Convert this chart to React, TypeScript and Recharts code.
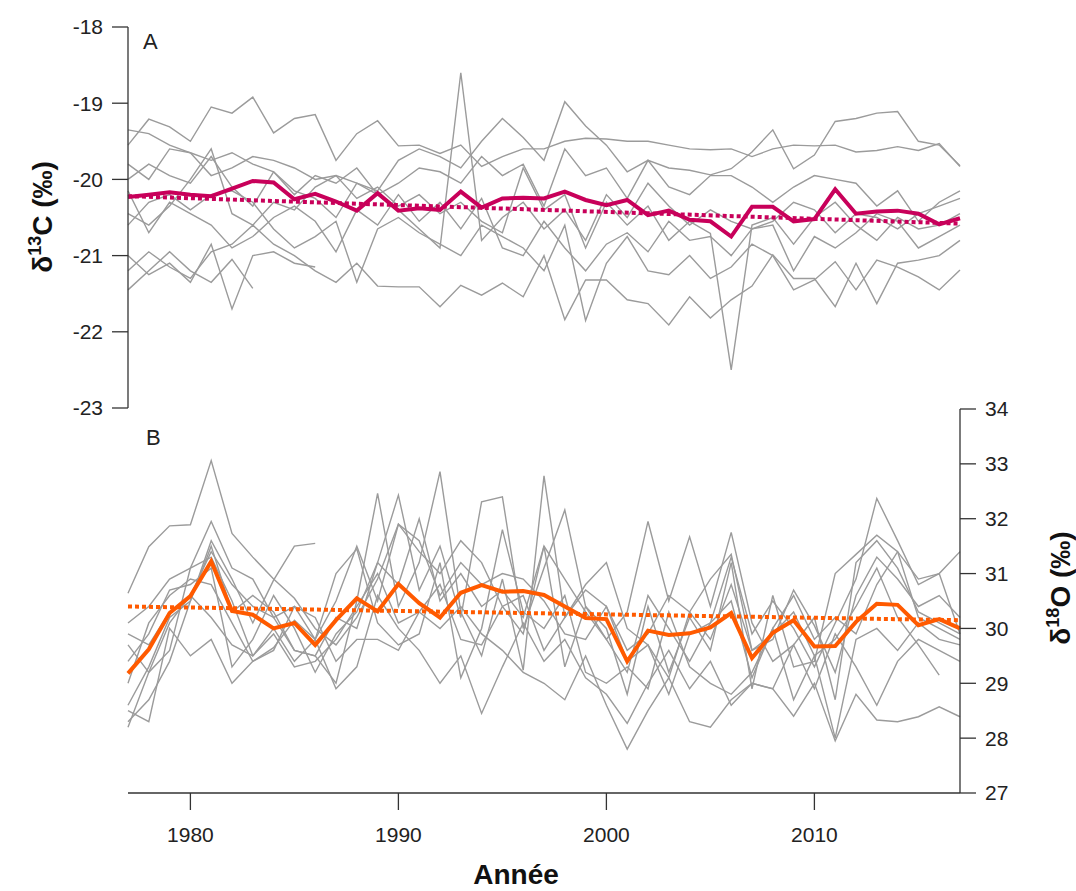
import React from "react";
import { LineChart, Line, XAxis, YAxis } from "recharts";

const years = [
  1977, 1978, 1979, 1980, 1981, 1982, 1983, 1984, 1985, 1986,
  1987, 1988, 1989, 1990, 1991, 1992, 1993, 1994, 1995, 1996,
  1997, 1998, 1999, 2000, 2001, 2002, 2003, 2004, 2005, 2006,
  2007, 2008, 2009, 2010, 2011, 2012, 2013, 2014, 2015, 2016, 2017,
];

const xTicks = [1980, 1990, 2000, 2010];
const ticksA = [-23, -22, -21, -20, -19, -18];
const ticksB = [27, 28, 29, 30, 31, 32, 33, 34];

// moyenne δ13C
const meanA = [
  -20.23, -20.2, -20.17, -20.2, -20.22, -20.12, -20.02, -20.04, -20.26, -20.19,
  -20.29, -20.41, -20.18, -20.41, -20.38, -20.4, -20.16, -20.37, -20.25, -20.24,
  -20.25, -20.16, -20.27, -20.34, -20.27, -20.47, -20.41, -20.53, -20.55, -20.75,
  -20.36, -20.36, -20.55, -20.52, -20.13, -20.45, -20.42, -20.41, -20.45, -20.59, -20.51,
];
// tendance (début / fin)
const trendA = [-20.22, -20.58];

// moyenne δ18O
const meanB = [
  29.18, 29.62, 30.28, 30.59, 31.22, 30.32, 30.25, 30.0, 30.1, 29.7,
  30.15, 30.55, 30.31, 30.81, 30.46, 30.2, 30.65, 30.79, 30.67, 30.68,
  30.61, 30.4, 30.19, 30.17, 29.4, 29.96, 29.88, 29.91, 30.02, 30.28,
  29.46, 29.92, 30.15, 29.67, 29.68, 30.12, 30.45, 30.43, 30.06, 30.17, 30.0,
];
const trendB = [30.4, 30.15];

// arbres individuels, δ13C
const a1 = [
  -19.55, -19.21, -19.31, -19.5, -19.05, -19.13, -18.92, -19.39, -19.2, -19.15,
  -19.75, -19.4, -19.23, -19.56, -19.55, -19.66, -19.55, -19.83, -19.7, -19.6,
  -19.6, -19.5, -19.46, -19.47, -19.5, -19.5, -19.55, -19.6, -19.61, -19.6,
  -19.7, -19.6, -19.55, -19.56, -19.55, -19.64, -19.62, -19.57, -19.62, -19.53, -19.83,
];
const a2 = [
  -19.35, -19.4, -19.55, -19.65, -19.95, -19.85, -19.7, -19.75, -19.85, -20.0,
  -19.95, -20.05, -20.15, -19.75, -19.6, -19.7, -19.85, -19.5, -19.2, -19.45,
  -19.75, -18.98, -19.3, -19.55, -19.9, -19.75, -19.85, -19.88, -19.94, -19.86,
  -19.64, -19.35, -19.86, -19.68, -19.24, -19.2, -19.13, -19.11, -19.5, -19.55, -19.82,
];
const a3 = [
  -20.0, -19.8, -19.95, -20.05, -19.7, -20.1, -20.35, -19.9, -20.15, -20.25,
  -20.5, -20.05, -20.2, -20.4, -20.65, -20.9, -18.6, -20.8, -20.5, -20.3,
  -20.65, -20.4, -20.8, -20.2, -20.5, -20.05, -20.35, -20.6, -20.4, -20.55,
  -20.65, -20.55, -20.3, -20.4, -20.7, -20.45, -20.5, -20.65, -20.45, -20.35, -20.25,
];
const a4 = [
  -20.45, -20.6, -20.35, -20.0, -19.6, -20.45, -20.6, -20.3, -20.4, -20.1,
  -19.95, -20.25, -20.1, -20.35, -20.2, -20.45, -20.3, -20.55, -20.7, -19.85,
  -20.4, -20.2, -20.9, -20.3, -20.6, -20.35, -20.8, -20.55, -20.71, -22.5,
  -20.6, -20.5, -20.85, -20.5, -20.3, -20.6, -20.8, -20.5, -20.65, -20.6, -20.45,
];
const a5 = [
  -20.15, -20.7, -20.3, -20.45, -20.6, -20.9, -20.75, -20.5, -20.35, -20.55,
  -20.95, -20.4, -20.6, -20.2, -20.55, -20.3, -20.65, -20.25, -20.9, -21.0,
  -20.55, -20.9, -21.2, -20.85, -20.7, -20.95, -20.55, -20.8, -20.75, -21.0,
  -20.65, -20.6, -21.2, -20.75, -20.9, -20.7, -20.45, -20.55, -20.9, -20.75, -20.6,
];
const a6 = [-21.45, -21.2, -20.95, -21.2, -21.35, -21.05, -21.43];
const a7 = [-21.0, -21.25, -21.1, -21.35, -20.85, -21.7, -21.0, -20.95, -21.1, -21.15];
const a8 = [
  -21.2, -20.95, -21.15, -21.3, -20.95, -20.85, -20.6, -20.85, -21.0, -21.2,
  -21.35, -21.1, -21.4, -21.41, -21.41, -21.67, -21.39, -21.52, -21.36, -21.54,
  -21.0, -21.84, -21.32, -21.32, -21.58, -21.63, -21.91, -21.54, -21.82, -21.58,
  -21.4, -20.99, -21.3, -21.3, -21.67, -21.1, -21.63, -21.1, -21.06, -21.0, -20.8,
];
const a9 = [
  -20.6, -20.3, -20.2, -20.4, -20.2, -20.15, -20.3, -20.65, -20.9, -20.75,
  -20.55, -21.35, -20.65, -20.5, -20.7, -20.85, -21.0, -20.6, -20.75, -20.9,
  -21.2, -20.6, -21.85, -21.1, -20.75, -21.2, -21.25, -21.0, -21.3, -21.15,
  -20.85, -21.0, -21.45, -21.32, -21.08, -21.45, -21.06, -21.15, -21.28, -21.45, -21.19,
];
const a10 = [
  -19.8, -20.0, -19.6, -19.65, -19.75, -19.65, -19.8, -19.9, -20.2, -19.95,
  -20.05, -19.85, -20.2, -20.05, -19.85, -19.9, -20.05, -19.7, -19.95, -19.8,
  -20.35, -19.6, -19.95, -19.85, -20.25, -19.75, -20.1, -20.2, -19.95, -19.95,
  -20.1, -20.3, -20.1, -19.95, -20.0, -20.05, -20.35, -20.15, -20.55, -20.3, -20.15,
];

// arbres individuels, δ18O
const b1 = [
  30.64, 31.49, 31.87, 31.89, 33.06, 31.73, 31.3, 30.9, 30.55, 30.0,
  29.7, 30.2, 30.9, 31.9, 31.4, 31.0, 31.6, 31.2, 30.4, 29.9,
  31.5, 30.9, 30.3, 29.8, 29.2, 30.6, 30.0, 29.4, 30.1, 31.3,
  29.9, 30.5, 30.0, 29.3, 30.1, 30.9, 32.37, 31.6, 30.8, 31.0, 29.9,
];
const b2 = [28.3, 28.7, 29.4, 30.5, 31.6, 30.9, 30.1, 30.88, 31.5, 31.55];
const b3 = [
  28.2, 29.2, 30.1, 30.6, 31.4, 30.8, 30.4, 30.2, 29.6, 29.5,
  29.0, 30.5, 32.46, 30.4, 31.2, 32.86, 30.3, 29.5, 30.9, 29.24,
  32.78, 30.2, 30.8, 31.2, 30.0, 29.7, 29.1, 30.3, 30.9, 31.35,
  29.6, 29.8, 30.7, 30.05, 29.2, 30.6, 31.3, 30.9, 30.4, 30.6, 30.2,
];
const b4 = [
  29.4, 29.9, 30.7, 30.8, 31.1, 29.3, 29.8, 30.6, 30.0, 29.2,
  29.9, 30.3, 31.2, 32.43, 30.7, 31.5, 30.2, 32.31, 32.4, 30.0,
  31.1, 32.16, 30.4, 29.8, 30.3, 31.95, 30.5, 31.67, 30.4, 31.75,
  30.1, 29.4, 29.7, 30.2, 28.7, 31.2, 31.6, 31.1, 30.3, 30.1, 29.9,
];
const b5 = [
  28.5, 28.3, 30.0, 29.5, 29.8, 29.0, 29.4, 29.65, 30.15, 29.8,
  28.9, 29.3, 30.6, 30.0, 29.6, 29.0, 29.5, 28.45, 29.3, 30.1,
  29.4, 29.8, 29.1, 28.8, 28.27, 29.0, 29.6, 28.9, 29.4, 28.6,
  29.0, 28.9, 29.7, 28.9, 29.9, 29.3, 28.6, 29.4, 29.8, 29.6, 29.4,
];
const b6 = [
  29.9, 29.7, 30.3, 30.6, 30.2, 29.7, 29.5, 29.9, 29.3, 29.4,
  29.8, 30.4, 31.0, 30.1, 30.3, 30.0, 30.4, 29.9, 29.6, 29.2,
  29.0, 28.7, 29.5, 28.6, 27.8, 28.5, 29.1, 28.3, 28.2, 28.7,
  29.0, 28.9, 28.4, 29.0, 27.95, 28.8, 28.33, 28.3, 28.39, 28.57, 28.39,
];
const b7 = [
  30.1, 30.4, 30.9, 31.1, 31.3, 30.5, 29.5, 30.0, 29.4, 29.8,
  30.5, 31.5, 30.5, 31.9, 31.6, 30.6, 31.2, 30.8, 31.0, 30.9,
  30.5, 29.9, 29.8, 30.4, 29.4, 29.7, 28.8, 29.9, 30.1, 30.5,
  29.1, 30.0, 30.6, 29.8, 30.2, 29.9, 30.8, 31.4, 30.9, 31.0, 31.4,
];
const b8 = [
  28.6, 29.3, 30.2, 30.5, 31.5, 30.3, 30.6, 30.3, 29.6, 29.5,
  30.2, 30.0, 31.2, 30.8, 32.0, 30.5, 31.0, 30.4, 30.7, 30.2,
  31.5, 29.3, 30.4, 30.0, 28.8, 30.4, 29.2, 30.2, 29.6, 31.2,
  28.9, 30.6, 29.3, 29.4, 31.0, 31.35, 31.7, 31.4, 30.2, 30.0, 29.8,
];
const b9 = [
  29.7, 29.2, 29.6, 31.1, 31.95, 31.1, 30.9, 30.2, 30.4, 29.8,
  31.0, 31.45, 30.1, 29.7, 29.9, 31.2, 29.1, 30.0, 31.8, 30.3,
  30.0, 30.6, 29.2, 29.0, 29.3, 28.9, 30.3, 29.3, 29.0, 28.8,
  29.2, 30.0, 28.7, 29.5, 28.0, 29.8, 30.0, 29.6, 30.1, 29.8, 29.7,
];
const b10 = [
  29.0, 30.1, 30.6, 30.9, 30.8, 30.1, 29.4, 29.6, 30.4, 30.2,
  29.4, 29.8, 29.8, 29.6, 30.3, 30.8, 29.8, 29.7, 30.4, 30.6,
  29.6, 30.2, 30.7, 30.4, 29.6, 29.9, 30.6, 30.3, 29.8, 30.8,
  29.6, 29.9, 30.3, 29.5, 29.8, 30.4, 31.1, 30.2, 29.7, 29.15,
];

const treesA = [a1, a2, a3, a4, a5, a6, a7, a8, a9, a10];
const treesB = [b1, b2, b3, b4, b5, b6, b7, b8, b9, b10];

const FONT = "'Liberation Sans', Arial, sans-serif";
const AXIS = "#333";
const GREY = "#9b9b9b";
const CRIMSON = "#c8005a";
const ORANGE = "#ff5a00";

function buildRows(trees: number[][], mean: number[], trend: number[]) {
  const last = years.length - 1;
  return years.map((year, i) => {
    const row: Record<string, number | null> = { year, mean: mean[i] };
    trees.forEach((t, k) => {
      row[`t${k}`] = t[i] ?? null;
    });
    row.trend = i === 0 ? trend[0] : i === last ? trend[1] : null;
    return row;
  });
}

const rowsA = buildRows(treesA, meanA, trendA);
const rowsB = buildRows(treesB, meanB, trendB);

const tickStyle = { fontSize: 21, fill: "#222", fontFamily: FONT };

function treeLines(n: number) {
  return Array.from({ length: n }, (_, k) => (
    <Line
      key={k}
      dataKey={`t${k}`}
      stroke={GREY}
      strokeWidth={1.4}
      dot={false}
      activeDot={false}
      isAnimationActive={false}
    />
  ));
}

export default function App() {
  return (
    <div style={{ position: "absolute", left: 0, top: 0, width: 1076, height: 891, background: "#fff" }}>
      <div style={{ position: "absolute", left: 0, top: 0 }}>
        <LineChart width={1076} height={430} data={rowsA} margin={{ top: 27, right: 116, bottom: 22, left: 0 }}>
          <XAxis dataKey="year" type="number" domain={[1977, 2017]} hide />
          <YAxis
            domain={[-23, -18]}
            ticks={ticksA}
            interval={0}
            width={128}
            tickSize={16}
            tickMargin={9}
            tick={tickStyle}
            axisLine={{ stroke: AXIS, strokeWidth: 1.3 }}
            tickLine={{ stroke: AXIS, strokeWidth: 1.3 }}
            allowDataOverflow
          />
          {treeLines(treesA.length)}
          <Line dataKey="trend" stroke={CRIMSON} strokeWidth={4} strokeDasharray="4 3" dot={false} activeDot={false} connectNulls isAnimationActive={false} />
          <Line dataKey="mean" stroke={CRIMSON} strokeWidth={4} dot={false} activeDot={false} isAnimationActive={false} />
        </LineChart>
      </div>
      <div style={{ position: "absolute", left: 0, top: 0 }}>
        <LineChart width={1076} height={891} data={rowsB} margin={{ top: 409, right: 0, bottom: 38, left: 128 }}>
          <XAxis
            dataKey="year"
            type="number"
            domain={[1977, 2017]}
            ticks={xTicks}
            interval={0}
            height={60}
            tickSize={17}
            tickMargin={17}
            tick={tickStyle}
            axisLine={{ stroke: AXIS, strokeWidth: 1.3 }}
            tickLine={{ stroke: AXIS, strokeWidth: 1.3 }}
          />
          <YAxis
            orientation="right"
            domain={[27, 34]}
            ticks={ticksB}
            interval={0}
            width={116}
            tickSize={16}
            tickMargin={9}
            tick={tickStyle}
            axisLine={{ stroke: AXIS, strokeWidth: 1.3 }}
            tickLine={{ stroke: AXIS, strokeWidth: 1.3 }}
            allowDataOverflow
          />
          {treeLines(treesB.length)}
          <Line dataKey="trend" stroke={ORANGE} strokeWidth={4} strokeDasharray="4 3" dot={false} activeDot={false} connectNulls isAnimationActive={false} />
          <Line dataKey="mean" stroke={ORANGE} strokeWidth={4} dot={false} activeDot={false} isAnimationActive={false} />
        </LineChart>
      </div>
      <svg width={1076} height={891} style={{ position: "absolute", left: 0, top: 0, pointerEvents: "none" }} fontFamily={FONT}>
        <text x={143} y={49} fontSize={22} fill="#222">A</text>
        <text x={146} y={445} fontSize={22} fill="#222">B</text>
        <text x={52} y={217} transform="rotate(-90 52 217)" textAnchor="middle" fontWeight="bold" fill="#111" fontSize={28}>
          δ<tspan fontSize={18} dy={-11}>13</tspan>
          <tspan dy={11}>C (‰)</tspan>
        </text>
        <text x={1070} y={588} transform="rotate(-90 1070 588)" textAnchor="middle" fontWeight="bold" fill="#111" fontSize={28}>
          δ<tspan fontSize={18} dy={-11}>18</tspan>
          <tspan dy={11}>O (‰)</tspan>
        </text>
        <text x={516} y={884} textAnchor="middle" fontWeight="bold" fill="#111" fontSize={28}>Année</text>
      </svg>
    </div>
  );
}
